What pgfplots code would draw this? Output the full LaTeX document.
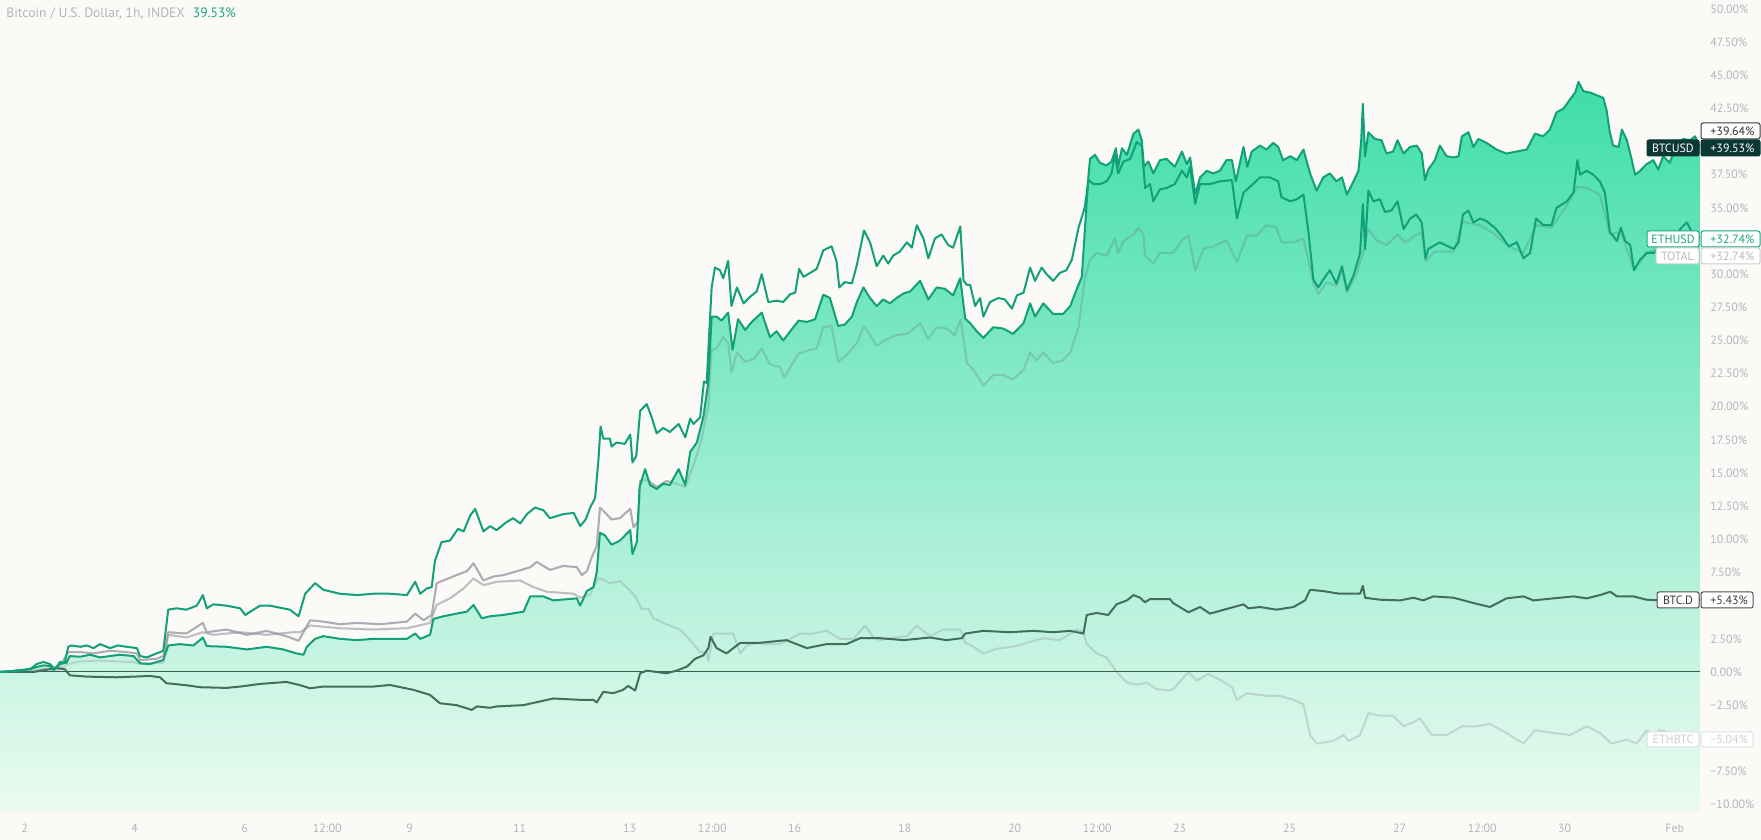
\documentclass[border=0pt]{standalone}
\usepackage{pgfplots}
\pgfplotsset{compat=1.18}
\usepackage{pgfplotstable}
\usepackage{fontspec}
\setmainfont{PT Sans}
\definecolor{bg}{RGB}{251,250,246}
\definecolor{tvgray}{RGB}{178,181,190}
\definecolor{tvgreen}{RGB}{18,160,120}
\definecolor{txtgreen}{RGB}{27,166,126}
\definecolor{areatop}{RGB}{15,215,149}
\definecolor{areamid}{RGB}{125,236,186}
\definecolor{areabot}{RGB}{232,251,241}
\definecolor{btcd}{RGB}{66,110,92}
\definecolor{zeroline}{RGB}{62,92,80}
\definecolor{totalc}{RGB}{140,136,152}
\definecolor{ethbtcc}{RGB}{160,163,172}
\definecolor{darkteal}{RGB}{11,55,52}

\pgfplotstableread[row sep=\\]{x y\\
1.551 0.0\\ 1.73 0.05\\ 1.91 0.1\\ 2.16 0.3\\ 2.34 0.5\\ 2.46 0.45\\ 2.52 0.15\\ 2.64 0.6\\ 2.76 0.7\\ 2.82 1.2\\
3.01 1.15\\ 3.19 1.3\\ 3.37 1.1\\ 3.55 1.2\\ 3.73 1.3\\ 3.98 1.2\\ 4.10 0.65\\ 4.28 0.6\\ 4.52 0.9\\ 4.61 2.0\\
4.82 2.1\\ 5.07 2.0\\ 5.24 2.6\\ 5.31 1.95\\ 5.67 1.9\\ 6.04 1.7\\ 6.40 1.9\\ 6.70 1.7\\ 6.94 1.4\\ 7.07 1.3\\
7.13 1.9\\ 7.28 2.5\\ 7.43 2.7\\ 7.73 2.5\\ 8.04 2.4\\ 8.34 2.5\\ 8.64 2.5\\ 8.95 2.5\\ 9.10 2.9\\ 9.19 2.5\\
9.37 2.8\\ 9.43 4.0\\ 9.61 4.2\\ 9.85 4.4\\ 10.04 4.55\\ 10.16 5.05\\ 10.31 4.05\\ 10.46 4.2\\ 10.70 4.3\\ 11.07 4.55\\
11.19 5.7\\ 11.43 5.7\\ 11.61 5.4\\ 12.04 5.55\\ 12.10 5.0\\ 12.22 6.1\\ 12.34 6.4\\ 12.40 7.5\\ 12.46 10.5\\ 12.55 10.3\\
12.67 9.6\\ 12.82 9.9\\ 13.01 10.7\\ 13.05 8.9\\ 13.13 9.8\\ 13.18 13.95\\ 13.28 15.3\\ 13.37 14.1\\ 13.49 13.8\\ 13.61 14.2\\
13.73 14.1\\ 13.89 15.3\\ 14.01 14.1\\ 14.10 16.6\\ 14.22 17.3\\ 14.34 19.25\\ 14.43 21.9\\ 14.49 26.8\\ 14.58 26.8\\ 14.67 26.5\\
14.79 27.1\\ 14.87 24.3\\ 14.97 26.6\\ 15.10 25.8\\ 15.22 26.4\\ 15.40 27.1\\ 15.55 25.25\\ 15.67 25.7\\ 15.79 25.0\\ 15.92 25.7\\
16.07 26.5\\ 16.22 26.4\\ 16.37 26.6\\ 16.52 28.45\\ 16.64 28.2\\ 16.79 26.1\\ 16.91 26.2\\ 17.04 26.8\\ 17.13 27.9\\ 17.25 29.0\\
17.37 28.2\\ 17.49 27.6\\ 17.61 28.1\\ 17.73 27.8\\ 17.85 28.2\\ 17.98 28.55\\ 18.10 28.7\\ 18.28 29.5\\ 18.43 28.1\\ 18.58 29.0\\
18.73 28.9\\ 18.88 28.4\\ 19.01 29.7\\ 19.10 26.65\\ 19.19 26.3\\ 19.31 25.7\\ 19.43 25.2\\ 19.61 26.0\\ 19.79 25.9\\ 19.97 25.5\\
20.16 26.3\\ 20.28 27.8\\ 20.37 26.8\\ 20.52 27.8\\ 20.70 27.0\\ 20.88 27.0\\ 21.01 27.6\\ 21.13 28.9\\ 21.22 29.8\\ 21.28 33.6\\
21.34 37.4\\ 21.37 38.7\\ 21.46 39.0\\ 21.55 38.4\\ 21.67 38.2\\ 21.76 38.5\\ 21.84 39.5\\ 21.88 38.1\\ 21.95 39.5\\ 22.04 39.0\\
22.16 40.6\\ 22.25 40.9\\ 22.31 40.1\\ 22.35 38.1\\ 22.43 38.5\\ 22.52 37.6\\ 22.64 38.6\\ 22.76 38.7\\ 22.91 38.1\\ 23.04 39.25\\
23.13 38.3\\ 23.19 38.8\\ 23.28 36.0\\ 23.37 37.3\\ 23.49 37.8\\ 23.61 37.6\\ 23.73 37.8\\ 23.85 38.6\\ 23.95 38.6\\ 24.02 37.0\\
24.16 39.6\\ 24.23 38.1\\ 24.31 39.25\\ 24.46 39.7\\ 24.58 39.4\\ 24.70 39.9\\ 24.79 39.6\\ 24.88 38.6\\ 25.01 38.9\\ 25.13 38.6\\
25.25 39.4\\ 25.37 37.6\\ 25.49 36.3\\ 25.61 37.3\\ 25.73 37.6\\ 25.85 37.0\\ 25.95 37.3\\ 26.04 36.0\\ 26.16 37.0\\ 26.25 37.8\\
26.30 40.1\\ 26.33 42.85\\ 26.37 38.9\\ 26.43 40.7\\ 26.55 40.2\\ 26.67 40.1\\ 26.76 39.1\\ 26.88 39.25\\ 26.96 40.1\\ 27.07 39.1\\
27.19 39.6\\ 27.31 39.7\\ 27.40 39.1\\ 27.46 37.1\\ 27.52 37.9\\ 27.64 38.6\\ 27.73 39.7\\ 27.85 38.9\\ 27.98 38.8\\ 28.07 38.9\\
28.13 40.4\\ 28.25 40.7\\ 28.34 39.6\\ 28.43 40.2\\ 28.58 39.9\\ 28.76 39.4\\ 28.94 39.1\\ 29.13 39.25\\ 29.31 39.4\\ 29.46 40.6\\
29.61 40.4\\ 29.73 40.9\\ 29.85 42.2\\ 29.98 42.5\\ 30.10 43.2\\ 30.19 43.7\\ 30.25 44.5\\ 30.34 43.8\\ 30.46 43.7\\ 30.58 43.5\\
30.70 43.3\\ 30.76 42.4\\ 30.82 40.7\\ 30.88 39.7\\ 30.98 39.6\\ 31.04 40.9\\ 31.13 40.1\\ 31.22 38.6\\ 31.28 37.5\\ 31.37 37.8\\
31.49 38.3\\ 31.61 38.6\\ 31.70 37.9\\ 31.79 38.9\\ 31.91 38.4\\ 32.04 39.9\\ 32.16 40.2\\ 32.28 40.1\\ 32.37 40.4\\ 32.46 39.53\\
}\btc

\pgfplotstableread[row sep=\\]{x y\\
1.551 0.0\\ 1.73 0.05\\ 1.91 0.15\\ 2.10 0.2\\ 2.22 0.6\\ 2.34 0.75\\ 2.46 0.6\\ 2.55 0.2\\ 2.64 0.75\\ 2.73 0.7\\
2.79 1.9\\ 2.85 2.0\\ 3.01 1.9\\ 3.13 2.0\\ 3.25 1.8\\ 3.37 2.1\\ 3.55 1.8\\ 3.70 2.0\\ 3.85 1.9\\ 4.04 1.8\\
4.10 1.2\\ 4.22 1.1\\ 4.40 1.4\\ 4.52 1.6\\ 4.61 4.7\\ 4.76 4.8\\ 4.94 4.7\\ 5.13 5.0\\ 5.24 5.8\\ 5.31 4.8\\
5.43 5.1\\ 5.67 5.0\\ 5.92 4.8\\ 6.01 4.3\\ 6.16 4.7\\ 6.28 5.0\\ 6.46 5.0\\ 6.70 4.8\\ 6.82 4.7\\ 6.98 4.2\\
7.10 5.9\\ 7.28 6.7\\ 7.43 6.2\\ 7.73 5.9\\ 8.04 5.8\\ 8.34 5.9\\ 8.64 5.9\\ 8.95 5.8\\ 9.10 6.8\\ 9.19 5.9\\
9.31 6.3\\ 9.40 6.4\\ 9.46 8.4\\ 9.58 9.8\\ 9.73 9.9\\ 9.88 10.8\\ 9.98 10.6\\ 10.10 11.8\\ 10.19 12.3\\ 10.34 10.6\\
10.46 11.0\\ 10.58 10.7\\ 10.76 11.3\\ 10.88 11.6\\ 11.01 11.2\\ 11.13 11.9\\ 11.28 12.4\\ 11.43 12.2\\ 11.55 11.6\\ 11.79 11.9\\
11.98 12.0\\ 12.10 11.0\\ 12.20 11.5\\ 12.28 12.4\\ 12.37 13.1\\ 12.43 15.9\\ 12.47 18.5\\ 12.52 17.6\\ 12.64 17.6\\ 12.67 17.0\\
12.76 17.3\\ 12.91 17.2\\ 13.01 17.9\\ 13.05 15.8\\ 13.12 16.3\\ 13.19 19.7\\ 13.31 20.2\\ 13.40 19.2\\ 13.49 18.0\\ 13.61 18.4\\
13.73 18.1\\ 13.89 18.7\\ 14.01 17.7\\ 14.10 19.1\\ 14.16 18.7\\ 14.28 19.2\\ 14.35 21.9\\ 14.40 21.8\\ 14.45 25.9\\ 14.49 29.0\\
14.55 30.5\\ 14.64 30.3\\ 14.70 29.7\\ 14.79 31.0\\ 14.85 27.6\\ 14.95 29.0\\ 15.07 27.8\\ 15.19 28.3\\ 15.31 28.7\\ 15.40 30.0\\
15.52 27.9\\ 15.67 28.0\\ 15.79 27.9\\ 15.92 28.5\\ 16.01 28.6\\ 16.08 30.4\\ 16.16 29.8\\ 16.28 30.1\\ 16.40 30.4\\ 16.52 31.8\\
16.67 32.1\\ 16.76 31.0\\ 16.81 29.0\\ 16.91 29.4\\ 17.04 29.3\\ 17.13 30.7\\ 17.26 33.3\\ 17.37 32.4\\ 17.49 30.6\\ 17.61 31.4\\
17.70 30.8\\ 17.79 31.4\\ 17.91 31.7\\ 18.04 32.4\\ 18.13 32.0\\ 18.22 33.7\\ 18.34 32.7\\ 18.43 31.2\\ 18.55 32.7\\ 18.67 33.0\\
18.79 32.2\\ 18.88 32.0\\ 19.01 33.6\\ 19.07 29.5\\ 19.13 29.2\\ 19.19 29.2\\ 19.28 27.6\\ 19.37 28.2\\ 19.43 26.8\\ 19.55 27.9\\
19.70 28.2\\ 19.82 28.1\\ 19.95 27.4\\ 20.04 28.4\\ 20.16 28.6\\ 20.28 30.5\\ 20.37 29.5\\ 20.49 30.5\\ 20.58 30.0\\ 20.70 29.5\\
20.82 30.1\\ 20.94 30.3\\ 21.04 31.1\\ 21.16 33.5\\ 21.25 34.7\\ 21.28 35.2\\ 21.34 37.1\\ 21.43 36.8\\ 21.55 36.8\\ 21.67 37.0\\
21.76 37.6\\ 21.82 39.0\\ 21.88 37.6\\ 21.98 38.5\\ 22.10 38.7\\ 22.22 39.97\\ 22.31 39.7\\ 22.37 36.5\\ 22.46 36.8\\ 22.52 35.5\\
22.64 36.4\\ 22.76 36.5\\ 22.91 36.8\\ 23.04 37.8\\ 23.13 37.3\\ 23.19 38.1\\ 23.28 35.3\\ 23.37 36.8\\ 23.55 36.8\\ 23.73 37.0\\
23.95 37.1\\ 24.04 34.2\\ 24.16 36.15\\ 24.28 36.6\\ 24.46 37.3\\ 24.64 37.3\\ 24.79 37.0\\ 24.85 35.8\\ 25.01 35.5\\ 25.13 35.65\\
25.25 36.0\\ 25.34 33.2\\ 25.43 29.6\\ 25.52 29.0\\ 25.61 29.6\\ 25.73 30.3\\ 25.85 29.3\\ 25.95 30.6\\ 26.04 28.8\\ 26.16 29.9\\
26.28 31.6\\ 26.33 35.3\\ 26.37 31.9\\ 26.43 36.3\\ 26.52 35.5\\ 26.64 35.65\\ 26.73 34.7\\ 26.85 34.8\\ 26.96 35.5\\ 27.07 33.4\\
27.19 34.2\\ 27.30 34.5\\ 27.40 33.9\\ 27.47 31.2\\ 27.52 31.9\\ 27.64 32.2\\ 27.73 32.4\\ 27.88 32.1\\ 27.98 31.9\\ 28.07 32.4\\
28.15 34.5\\ 28.25 34.8\\ 28.34 33.9\\ 28.46 34.2\\ 28.58 34.0\\ 28.73 33.5\\ 28.85 32.9\\ 28.98 32.1\\ 29.13 32.4\\ 29.25 31.2\\
29.37 31.6\\ 29.48 34.2\\ 29.61 33.7\\ 29.76 33.7\\ 29.85 35.0\\ 30.04 35.5\\ 30.16 36.15\\ 30.23 38.6\\ 30.28 37.5\\ 30.40 37.8\\
30.52 37.5\\ 30.64 37.0\\ 30.73 36.15\\ 30.82 33.2\\ 30.95 32.5\\ 31.02 33.5\\ 31.10 32.5\\ 31.19 32.2\\ 31.26 30.3\\ 31.37 31.1\\
31.49 31.6\\ 31.61 31.6\\ 31.73 31.9\\ 31.85 32.4\\ 31.98 32.5\\ 32.10 33.4\\ 32.22 33.9\\ 32.31 33.2\\ 32.46 32.74\\
}\eth

\pgfplotstableread[row sep=\\]{x y\\
1.551 0.0\\ 2.0 0.1\\ 2.4 0.2\\ 2.64 0.4\\ 2.79 1.5\\ 3.01 1.5\\ 3.25 1.4\\ 3.55 1.6\\ 3.85 1.5\\ 4.04 1.4\\
4.10 0.9\\ 4.40 1.0\\ 4.52 1.2\\ 4.61 3.0\\ 4.94 2.9\\ 5.24 3.7\\ 5.31 3.0\\ 5.67 3.2\\ 6.04 2.8\\ 6.40 3.1\\
6.76 2.7\\ 6.98 2.35\\ 7.19 3.9\\ 7.43 3.8\\ 7.73 3.6\\ 8.04 3.7\\ 8.46 3.6\\ 8.95 3.8\\ 9.10 4.4\\ 9.25 3.9\\
9.40 4.3\\ 9.49 6.7\\ 9.67 7.0\\ 9.85 7.3\\ 10.04 7.6\\ 10.16 8.2\\ 10.34 6.9\\ 10.52 7.2\\ 10.70 7.3\\ 10.95 7.6\\
11.19 7.9\\ 11.31 8.3\\ 11.55 7.7\\ 11.79 8.0\\ 12.04 7.9\\ 12.13 7.3\\ 12.22 7.6\\ 12.31 8.65\\ 12.40 9.5\\ 12.46 12.4\\
12.58 11.9\\ 12.67 11.5\\ 12.82 11.6\\ 13.01 12.3\\ 13.07 10.9\\ 13.16 11.4\\ 13.19 14.4\\ 13.31 14.5\\ 13.49 13.95\\ 13.67 14.4\\
13.85 14.2\\ 14.01 13.95\\ 14.16 15.6\\ 14.31 17.6\\ 14.43 20.1\\ 14.49 24.3\\ 14.58 24.4\\ 14.70 25.25\\ 14.79 24.8\\ 14.85 22.6\\
14.95 24.1\\ 15.10 23.4\\ 15.25 23.6\\ 15.40 24.4\\ 15.55 23.2\\ 15.73 23.0\\ 15.81 22.2\\ 15.92 23.0\\ 16.07 24.0\\ 16.28 24.3\\
16.40 24.4\\ 16.52 26.0\\ 16.67 26.1\\ 16.79 23.4\\ 16.94 23.9\\ 17.13 24.8\\ 17.26 26.1\\ 17.37 25.4\\ 17.49 24.6\\ 17.67 25.1\\
17.85 25.4\\ 18.04 25.5\\ 18.28 26.3\\ 18.43 25.1\\ 18.58 26.0\\ 18.76 25.9\\ 18.91 25.4\\ 19.02 26.6\\ 19.13 23.3\\ 19.25 22.8\\
19.43 21.6\\ 19.61 22.4\\ 19.79 22.4\\ 19.97 22.05\\ 20.16 22.8\\ 20.28 24.1\\ 20.40 23.5\\ 20.52 24.1\\ 20.70 23.3\\ 20.88 23.5\\
21.01 24.1\\ 21.16 26.0\\ 21.28 29.8\\ 21.37 31.1\\ 21.49 31.6\\ 21.67 31.4\\ 21.82 32.7\\ 21.88 31.6\\ 21.98 32.5\\ 22.16 33.0\\
22.25 33.5\\ 22.34 33.0\\ 22.37 31.4\\ 22.52 30.8\\ 22.64 31.6\\ 22.88 31.6\\ 23.04 32.55\\ 23.16 32.9\\ 23.28 30.3\\ 23.43 31.9\\
23.61 32.1\\ 23.85 32.55\\ 24.04 30.9\\ 24.22 32.9\\ 24.40 32.9\\ 24.58 33.7\\ 24.76 33.5\\ 24.85 32.4\\ 25.07 32.4\\ 25.25 32.7\\
25.43 29.3\\ 25.52 28.5\\ 25.67 29.4\\ 25.85 29.1\\ 25.95 30.3\\ 26.04 28.6\\ 26.22 30.1\\ 26.34 31.7\\ 26.43 33.4\\ 26.58 32.55\\
26.76 32.2\\ 26.96 33.0\\ 27.10 32.4\\ 27.28 32.9\\ 27.40 33.2\\ 27.47 31.0\\ 27.64 31.7\\ 27.88 31.7\\ 27.98 31.7\\ 28.15 34.0\\
28.25 33.85\\ 28.46 33.7\\ 28.73 33.0\\ 28.98 32.1\\ 29.25 31.6\\ 29.48 33.7\\ 29.76 33.5\\ 30.04 35.2\\ 30.23 36.6\\ 30.40 36.5\\
30.64 36.0\\ 30.82 33.0\\ 31.02 33.2\\ 31.26 30.3\\ 31.49 31.6\\ 31.85 32.2\\ 32.46 32.74\\
}\total

\pgfplotstableread[row sep=\\]{x y\\
1.551 0.0\\ 2.16 0.0\\ 2.34 0.3\\ 2.58 0.1\\ 2.79 0.6\\ 3.01 0.8\\ 3.37 0.85\\ 3.98 0.75\\ 4.10 0.6\\ 4.52 0.7\\
4.61 2.8\\ 4.94 2.6\\ 5.24 3.0\\ 5.43 2.8\\ 5.92 3.0\\ 6.40 2.8\\ 6.88 3.0\\ 7.01 3.0\\ 7.19 3.5\\ 7.73 3.3\\
8.34 3.2\\ 8.95 3.3\\ 9.37 3.7\\ 9.49 5.05\\ 9.73 5.55\\ 9.98 6.3\\ 10.16 7.05\\ 10.34 6.55\\ 10.58 6.8\\ 11.01 6.9\\
11.25 6.4\\ 11.49 6.05\\ 11.98 5.9\\ 12.10 5.6\\ 12.28 5.85\\ 12.43 7.1\\ 12.49 7.0\\ 12.64 6.7\\ 12.82 6.85\\ 12.97 6.3\\
13.10 5.7\\ 13.22 4.75\\ 13.34 4.75\\ 13.43 4.05\\ 13.67 3.6\\ 13.92 3.2\\ 14.10 2.4\\ 14.28 1.5\\ 14.40 1.5\\ 14.43 0.8\\
14.52 2.9\\ 14.70 2.9\\ 14.88 2.9\\ 15.01 1.4\\ 15.13 2.0\\ 15.31 2.2\\ 15.49 2.1\\ 15.73 2.1\\ 16.10 2.9\\ 16.34 2.9\\
16.58 3.1\\ 16.82 2.5\\ 17.07 2.5\\ 17.28 3.5\\ 17.43 2.6\\ 17.55 2.4\\ 17.73 2.55\\ 18.04 2.7\\ 18.22 3.5\\ 18.46 2.7\\
18.70 3.2\\ 19.01 3.2\\ 19.10 2.2\\ 19.25 1.9\\ 19.43 1.4\\ 19.67 1.75\\ 19.97 1.9\\ 20.22 2.2\\ 20.52 2.55\\ 20.82 2.4\\
21.13 3.2\\ 21.25 3.0\\ 21.31 2.1\\ 21.49 1.4\\ 21.67 1.1\\ 21.85 0.0\\ 22.04 -0.8\\ 22.22 -0.95\\ 22.40 -0.8\\ 22.58 -1.3\\
22.82 -1.4\\ 22.88 -1.3\\ 23.16 0.0\\ 23.31 -0.65\\ 23.52 -0.15\\ 23.76 -0.65\\ 23.95 -1.15\\ 24.04 -2.1\\ 24.22 -1.6\\ 24.58 -1.8\\
24.82 -1.8\\ 25.07 -2.1\\ 25.25 -2.45\\ 25.37 -4.75\\ 25.49 -5.4\\ 25.79 -5.2\\ 25.98 -4.75\\ 26.07 -5.2\\ 26.28 -4.75\\ 26.43 -3.1\\
26.64 -3.3\\ 26.88 -3.3\\ 27.07 -4.1\\ 27.25 -3.8\\ 27.37 -3.5\\ 27.58 -4.75\\ 27.85 -4.75\\ 28.13 -4.1\\ 28.40 -4.1\\ 28.64 -3.9\\
28.94 -4.6\\ 29.25 -5.4\\ 29.46 -4.4\\ 29.79 -4.6\\ 30.10 -4.75\\ 30.40 -4.1\\ 30.64 -4.6\\ 30.85 -5.4\\ 31.13 -5.1\\ 31.31 -5.4\\
31.49 -4.4\\ 31.61 -4.75\\ 31.73 -4.4\\ 32.46 -5.04\\
}\ethbtc

\pgfplotstableread[row sep=\\]{x y\\
1.551 0.0\\ 2.16 0.0\\ 2.58 0.3\\ 2.73 0.2\\ 2.82 -0.25\\ 3.13 -0.35\\ 3.67 -0.4\\ 4.28 -0.3\\ 4.46 -0.4\\ 4.58 -0.85\\
4.94 -1.0\\ 5.19 -1.15\\ 5.67 -1.2\\ 5.92 -1.1\\ 6.28 -0.9\\ 6.76 -0.75\\ 7.01 -1.0\\ 7.19 -1.23\\ 7.43 -1.1\\ 8.34 -1.1\\
8.64 -0.98\\ 9.07 -1.35\\ 9.37 -1.73\\ 9.55 -2.36\\ 9.85 -2.5\\ 10.13 -2.86\\ 10.22 -2.6\\ 10.46 -2.7\\ 10.58 -2.6\\ 11.07 -2.5\\
11.61 -2.0\\ 12.10 -2.1\\ 12.34 -2.1\\ 12.40 -2.3\\ 12.52 -1.5\\ 12.70 -1.6\\ 12.88 -1.35\\ 12.97 -1.05\\ 13.10 -1.4\\ 13.19 -0.1\\
13.31 0.1\\ 13.49 0.0\\ 13.67 -0.1\\ 13.85 0.1\\ 14.04 0.4\\ 14.19 1.0\\ 14.34 1.25\\ 14.43 1.8\\ 14.47 2.65\\ 14.58 1.8\\
14.76 1.4\\ 15.01 2.2\\ 15.37 2.2\\ 15.85 2.4\\ 16.22 1.8\\ 16.58 2.1\\ 16.94 2.1\\ 17.19 2.55\\ 17.55 2.55\\ 17.98 2.4\\
18.46 2.6\\ 18.76 2.4\\ 19.04 2.55\\ 19.10 2.9\\ 19.43 3.1\\ 19.91 3.0\\ 20.34 3.1\\ 20.70 3.0\\ 21.01 3.1\\ 21.25 2.9\\
21.31 4.3\\ 21.49 4.45\\ 21.70 4.3\\ 21.85 5.1\\ 22.04 5.4\\ 22.16 5.8\\ 22.28 5.6\\ 22.37 5.25\\ 22.46 5.5\\ 22.82 5.5\\
22.88 5.2\\ 23.16 4.5\\ 23.37 4.9\\ 23.55 4.4\\ 23.85 4.75\\ 24.16 5.1\\ 24.25 4.8\\ 24.46 4.9\\ 24.76 4.7\\ 25.07 4.9\\
25.28 5.4\\ 25.37 6.2\\ 25.61 6.1\\ 25.91 5.9\\ 26.28 5.9\\ 26.33 6.5\\ 26.37 5.6\\ 26.64 5.45\\ 27.01 5.4\\ 27.25 5.6\\
27.43 5.4\\ 27.61 5.7\\ 27.98 5.6\\ 28.34 5.2\\ 28.64 4.9\\ 28.94 5.55\\ 29.25 5.7\\ 29.43 5.4\\ 29.79 5.55\\ 30.16 5.7\\
30.40 5.55\\ 30.64 5.8\\ 30.83 6.05\\ 30.95 5.7\\ 31.25 5.7\\ 31.49 5.45\\ 31.73 5.4\\ 32.46 5.43\\
}\btcd

\begin{document}
\begin{tikzpicture}[x=1pt,y=1pt]
\useasboundingbox (0,0) rectangle (880.5,420);
\fill[bg] (0,0) rectangle (880.5,420);
\begin{axis}[
  at={(0pt,14pt)}, anchor=south west,
  scale only axis, width=850pt, height=406pt,
  xmin=1.551, xmax=32.46, ymin=-10.56, ymax=50.68,
  axis line style={draw=none},
  major tick length=0pt, tick style={draw=none},
  xtick={2,4,6,7.5,9,11,13,14.5,16,18,20,21.5,23,25,27,28.5,30,32},
  xticklabels={2,4,6,12:00,9,11,13,12:00,16,18,20,12:00,23,25,27,12:00,30,Feb},
  ytick={-10,-7.5,-2.5,0,2.5,7.5,10,12.5,15,17.5,20,22.5,25,27.5,30,35,37.5,42.5,45,47.5,50},
  yticklabels={−10.00\%,−7.50\%,−2.50\%,0.00\%,2.50\%,7.50\%,10.00\%,12.50\%,15.00\%,17.50\%,20.00\%,22.50\%,25.00\%,27.50\%,30.00\%,35.00\%,37.50\%,42.50\%,45.00\%,47.50\%,50.00\%},
  yticklabel pos=right,
  yticklabel style={anchor=west, inner sep=0pt, xshift=5pt, font=\fontsize{6}{7}\selectfont, text=tvgray},
  xticklabel style={anchor=base, inner sep=0pt, yshift=-10.5pt, font=\fontsize{6}{7}\selectfont, text=tvgray},
  clip=true,
]
% comparison series drawn beneath the main area
\addplot[ethbtcc, opacity=0.55, line width=1pt, line join=round, forget plot] table[x=x,y=y]{\ethbtc};
\addplot[totalc, opacity=0.6, line width=1pt, line join=round, forget plot] table[x=x,y=y]{\total};
% main series area (semi-transparent gradient)
\addplot[draw=none, fill opacity=0.8, top color=areatop, middle color=areamid, bottom color=areabot, forget plot]
  table[x=x,y=y]{\btc} -- (axis cs:32.46,-10.56) -- (axis cs:1.551,-10.56) -- cycle;
% faint second pass so they show through the area
\addplot[ethbtcc, opacity=0.3, line width=1pt, line join=round] table[x=x,y=y]{\ethbtc};
\addplot[totalc, opacity=0.22, line width=1pt, line join=round] table[x=x,y=y]{\total};
\addplot[zeroline, line width=0.5pt, forget plot] coordinates {(1.551,0) (32.46,0)};
\addplot[btcd, line width=1pt, line join=round] table[x=x,y=y]{\btcd};
\addplot[tvgreen, line width=1pt, line join=round] table[x=x,y=y]{\eth};
\addplot[tvgreen, line width=1pt, line join=round] table[x=x,y=y]{\btc};
\end{axis}
% title
\node[anchor=west, inner sep=0pt, font=\fontsize{6.8}{8}\selectfont] at (3,413)
  {\textcolor{tvgray}{Bitcoin / U.S. Dollar, 1h, INDEX}\hspace{4pt}\textcolor{txtgreen}{39.53\%}};
% right labels
\tikzset{lab/.style={anchor=center, inner sep=0pt, font=\fontsize{6}{7}\selectfont}}
\draw[rounded corners=1pt, fill=white, draw={rgb,255:red,60;green,60;blue,60}, line width=0.5pt] (850.5,350.5) rectangle (880,358.5);
\node[lab, anchor=west, text={rgb,255:red,50;green,50;blue,50}] at (855,354.5) {+39.64\%};
\draw[rounded corners=1pt, fill=darkteal, draw=darkteal, line width=0.5pt] (823.5,342) rectangle (849.5,350);
\node[lab, text=white] at (836.5,346) {BTCUSD};
\draw[rounded corners=1pt, fill=darkteal, draw=darkteal, line width=0.5pt] (850.5,342) rectangle (880,350);
\node[lab, anchor=west, text=white] at (855,346) {+39.53\%};
\draw[rounded corners=1pt, fill=white, draw=txtgreen, line width=0.5pt] (823.5,296.5) rectangle (849.5,304.5);
\node[lab, text=txtgreen] at (836.5,300.5) {ETHUSD};
\draw[rounded corners=1pt, fill=white, draw=txtgreen, line width=0.5pt] (850.5,296.5) rectangle (880,304.5);
\node[lab, anchor=west, text=txtgreen] at (855,300.5) {+32.74\%};
\draw[rounded corners=1pt, fill=white, draw={rgb,255:red,205;green,205;blue,210}, line width=0.5pt] (828,288) rectangle (849.5,296);
\node[lab, text={rgb,255:red,185;green,185;blue,192}] at (838.75,292) {TOTAL};
\draw[rounded corners=1pt, fill=white, draw={rgb,255:red,205;green,205;blue,210}, line width=0.5pt] (850.5,288) rectangle (880,296);
\node[lab, anchor=west, text={rgb,255:red,185;green,185;blue,192}] at (855,292) {+32.74\%};
\draw[rounded corners=1pt, fill=white, draw={rgb,255:red,80;green,80;blue,80}, line width=0.5pt] (828.5,116) rectangle (849.5,124);
\node[lab, text={rgb,255:red,60;green,60;blue,60}] at (839,120) {BTC.D};
\draw[rounded corners=1pt, fill=white, draw={rgb,255:red,80;green,80;blue,80}, line width=0.5pt] (850.5,116) rectangle (876.5,124);
\node[lab, anchor=west, text={rgb,255:red,60;green,60;blue,60}] at (855,120) {+5.43\%};
\draw[rounded corners=1pt, fill=white, draw={rgb,255:red,222;green,222;blue,226}, line width=0.5pt] (823.5,46.5) rectangle (849.5,54);
\node[lab, text={rgb,255:red,208;green,208;blue,213}] at (836.5,50.25) {ETHBTC};
\draw[rounded corners=1pt, fill=white, draw={rgb,255:red,222;green,222;blue,226}, line width=0.5pt] (850.5,46.5) rectangle (876.5,54);
\node[lab, anchor=west, text={rgb,255:red,208;green,208;blue,213}] at (855,50.25) {−5.04\%};
\end{tikzpicture}
\end{document}
